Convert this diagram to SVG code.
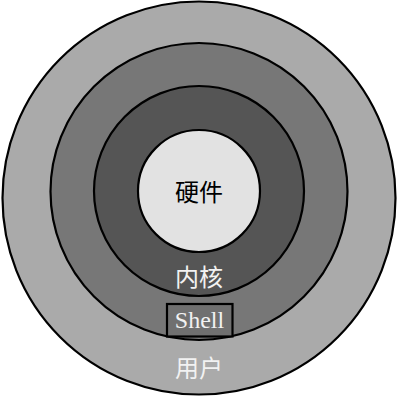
<svg xmlns="http://www.w3.org/2000/svg" width="400" height="400" viewBox="0 0 400 400">
<style>
.ring{stroke:#000;stroke-width:2.2}
.cjk{font-family:"Noto Sans CJK SC","Noto Sans",sans-serif;font-size:24px;text-anchor:middle}
.lat{font-family:"Liberation Serif","Times New Roman",serif;font-size:24px;text-anchor:middle}
</style>
<rect width="400" height="400" fill="#fff"/>
<g id="user">
<circle class="ring" cx="199" cy="198" r="196.5" fill="#aaaaaa"/>
<text class="cjk" x="199" y="377" fill="#f2f2f2">用户</text>
</g>
<g id="shell-ring">
<circle class="ring" cx="199" cy="191.5" r="148.5" fill="#777777"/>
</g>
<g id="kernel">
<circle class="ring" cx="199" cy="191" r="105" fill="#555555"/>
<text class="cjk" x="199" y="286" fill="#f2f2f2">内核</text>
</g>
<g id="hardware">
<circle class="ring" cx="199" cy="191" r="61" fill="#e2e2e2"/>
<text class="cjk" x="199" y="201" fill="#000">硬件</text>
</g>
<g id="shell">
<rect x="167" y="304" width="65.5" height="32.5" fill="#707070" stroke="#000" stroke-width="2.2"/>
<text class="lat" x="199.5" y="328" fill="#f2f2f2">Shell</text>
</g>
</svg>
